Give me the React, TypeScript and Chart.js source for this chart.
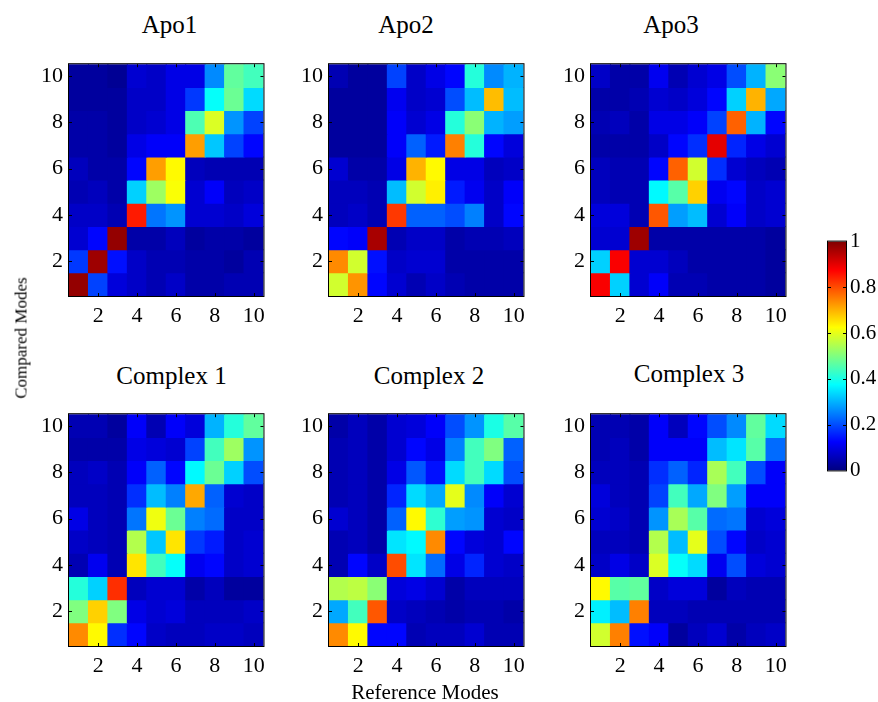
import React, { useEffect, useRef } from 'react';
import { Chart, registerables } from 'chart.js';

Chart.register(...registerables);

// ---------- data ----------
const modeLabels = ['1', '2', '3', '4', '5', '6', '7', '8', '9', '10'];
const shownModes = [2, 4, 6, 8, 10];
const panelTitles = ['Apo1', 'Apo2', 'Apo3', 'Complex 1', 'Complex 2', 'Complex 3'];
const xAxisTitle = 'Reference Modes';
const yAxisTitle = 'Compared Modes';

// each matrix: rows listed from compared mode 10 (top) down to mode 1 (bottom),
// columns = reference modes 1..10
const apo1 = [
  [0.03, 0.03, 0.02, 0.08, 0.07, 0.10, 0.10, 0.26, 0.47, 0.44],
  [0.03, 0.03, 0.03, 0.07, 0.07, 0.10, 0.18, 0.38, 0.48, 0.34],
  [0.04, 0.04, 0.03, 0.07, 0.08, 0.10, 0.45, 0.59, 0.27, 0.19],
  [0.04, 0.04, 0.03, 0.10, 0.12, 0.12, 0.72, 0.32, 0.19, 0.13],
  [0.06, 0.04, 0.04, 0.13, 0.72, 0.63, 0.06, 0.05, 0.05, 0.05],
  [0.05, 0.06, 0.04, 0.33, 0.53, 0.62, 0.08, 0.12, 0.06, 0.07],
  [0.07, 0.07, 0.05, 0.85, 0.24, 0.27, 0.08, 0.08, 0.07, 0.09],
  [0.08, 0.13, 0.98, 0.04, 0.04, 0.06, 0.03, 0.04, 0.04, 0.03],
  [0.18, 0.97, 0.14, 0.07, 0.05, 0.05, 0.04, 0.04, 0.03, 0.05],
  [0.98, 0.19, 0.09, 0.07, 0.05, 0.07, 0.04, 0.04, 0.05, 0.05],
];
const apo2 = [
  [0.05, 0.03, 0.03, 0.19, 0.07, 0.10, 0.13, 0.41, 0.26, 0.30],
  [0.03, 0.03, 0.03, 0.11, 0.07, 0.08, 0.20, 0.31, 0.69, 0.31],
  [0.03, 0.03, 0.03, 0.12, 0.08, 0.10, 0.41, 0.51, 0.30, 0.28],
  [0.03, 0.03, 0.03, 0.12, 0.22, 0.15, 0.75, 0.41, 0.13, 0.09],
  [0.08, 0.04, 0.04, 0.10, 0.70, 0.63, 0.10, 0.10, 0.06, 0.07],
  [0.06, 0.06, 0.05, 0.31, 0.58, 0.64, 0.15, 0.11, 0.07, 0.12],
  [0.06, 0.07, 0.05, 0.82, 0.22, 0.22, 0.20, 0.25, 0.07, 0.13],
  [0.13, 0.12, 0.96, 0.05, 0.07, 0.07, 0.04, 0.05, 0.05, 0.06],
  [0.74, 0.58, 0.14, 0.07, 0.08, 0.08, 0.04, 0.04, 0.04, 0.04],
  [0.58, 0.73, 0.13, 0.08, 0.05, 0.07, 0.05, 0.04, 0.04, 0.04],
];
const apo3 = [
  [0.07, 0.04, 0.04, 0.11, 0.05, 0.08, 0.10, 0.20, 0.30, 0.51],
  [0.04, 0.04, 0.05, 0.08, 0.07, 0.09, 0.13, 0.33, 0.70, 0.29],
  [0.05, 0.06, 0.04, 0.10, 0.10, 0.12, 0.19, 0.78, 0.30, 0.13],
  [0.04, 0.04, 0.04, 0.07, 0.13, 0.17, 0.90, 0.16, 0.10, 0.08],
  [0.06, 0.05, 0.05, 0.13, 0.78, 0.58, 0.17, 0.08, 0.06, 0.05],
  [0.06, 0.05, 0.05, 0.37, 0.46, 0.67, 0.11, 0.13, 0.07, 0.08],
  [0.09, 0.09, 0.05, 0.79, 0.28, 0.31, 0.08, 0.12, 0.07, 0.08],
  [0.08, 0.08, 0.97, 0.04, 0.04, 0.04, 0.04, 0.04, 0.04, 0.03],
  [0.33, 0.88, 0.08, 0.08, 0.06, 0.04, 0.04, 0.04, 0.04, 0.03],
  [0.88, 0.33, 0.08, 0.12, 0.05, 0.05, 0.04, 0.04, 0.04, 0.03],
];
const complex1 = [
  [0.05, 0.05, 0.03, 0.12, 0.05, 0.12, 0.09, 0.30, 0.41, 0.47],
  [0.04, 0.04, 0.04, 0.10, 0.09, 0.08, 0.19, 0.44, 0.53, 0.27],
  [0.06, 0.07, 0.05, 0.12, 0.22, 0.13, 0.37, 0.48, 0.33, 0.20],
  [0.06, 0.06, 0.05, 0.17, 0.31, 0.25, 0.71, 0.22, 0.08, 0.07],
  [0.10, 0.06, 0.05, 0.24, 0.61, 0.48, 0.25, 0.23, 0.07, 0.07],
  [0.07, 0.06, 0.05, 0.55, 0.32, 0.65, 0.18, 0.15, 0.07, 0.08],
  [0.05, 0.11, 0.05, 0.65, 0.44, 0.38, 0.11, 0.13, 0.07, 0.08],
  [0.41, 0.33, 0.83, 0.06, 0.08, 0.08, 0.04, 0.06, 0.03, 0.03],
  [0.50, 0.67, 0.50, 0.10, 0.08, 0.09, 0.06, 0.06, 0.06, 0.07],
  [0.74, 0.63, 0.17, 0.13, 0.07, 0.06, 0.06, 0.07, 0.07, 0.06],
];
const complex2 = [
  [0.04, 0.06, 0.04, 0.08, 0.09, 0.12, 0.20, 0.27, 0.40, 0.46],
  [0.05, 0.06, 0.04, 0.08, 0.13, 0.10, 0.25, 0.44, 0.50, 0.22],
  [0.05, 0.06, 0.04, 0.10, 0.21, 0.14, 0.34, 0.44, 0.34, 0.20],
  [0.05, 0.06, 0.04, 0.16, 0.34, 0.29, 0.60, 0.26, 0.12, 0.08],
  [0.08, 0.06, 0.04, 0.22, 0.63, 0.42, 0.28, 0.27, 0.08, 0.07],
  [0.05, 0.06, 0.04, 0.35, 0.37, 0.74, 0.13, 0.09, 0.08, 0.13],
  [0.05, 0.13, 0.07, 0.80, 0.35, 0.23, 0.10, 0.16, 0.08, 0.07],
  [0.55, 0.56, 0.51, 0.09, 0.10, 0.08, 0.04, 0.06, 0.06, 0.06],
  [0.29, 0.44, 0.79, 0.07, 0.06, 0.05, 0.04, 0.05, 0.05, 0.04],
  [0.74, 0.63, 0.13, 0.13, 0.05, 0.06, 0.06, 0.08, 0.05, 0.05],
];
const complex3 = [
  [0.05, 0.05, 0.04, 0.12, 0.06, 0.13, 0.20, 0.26, 0.47, 0.34],
  [0.05, 0.06, 0.04, 0.12, 0.12, 0.12, 0.31, 0.35, 0.46, 0.23],
  [0.06, 0.06, 0.05, 0.17, 0.22, 0.16, 0.54, 0.44, 0.20, 0.12],
  [0.09, 0.06, 0.05, 0.19, 0.44, 0.29, 0.50, 0.28, 0.12, 0.12],
  [0.08, 0.07, 0.05, 0.27, 0.54, 0.46, 0.23, 0.24, 0.08, 0.09],
  [0.06, 0.06, 0.05, 0.55, 0.31, 0.60, 0.20, 0.13, 0.07, 0.08],
  [0.07, 0.10, 0.07, 0.59, 0.38, 0.34, 0.11, 0.20, 0.09, 0.08],
  [0.63, 0.46, 0.47, 0.07, 0.09, 0.09, 0.03, 0.06, 0.05, 0.05],
  [0.36, 0.31, 0.75, 0.06, 0.06, 0.05, 0.05, 0.05, 0.05, 0.05],
  [0.58, 0.75, 0.14, 0.12, 0.03, 0.06, 0.08, 0.04, 0.06, 0.07],
];
const panelData = [apo1, apo2, apo3, complex1, complex2, complex3];

const colorbarTicks = [0, 0.2, 0.4, 0.6, 0.8, 1];
const colorbarLabels = ['0', '0.2', '0.4', '0.6', '0.8', '1'];

// ---------- styling / layout ----------
const FONT = "'Liberation Serif', 'Times New Roman', serif";
const PANEL_X = [69, 329, 591];
const PANEL_Y = [50, 400];
const PLOT_W = 198;
const PLOT_H = 246;
const PAD = 5;
const Y_AXIS_W = 40;
const X_AXIS_H = 30;
const TITLE_POS = [
  { x: 169.5, y: 32 },
  { x: 406, y: 32 },
  { x: 671, y: 32 },
  { x: 171.5, y: 383 },
  { x: 429, y: 383 },
  { x: 689, y: 381 },
];

function jet(v: number): string {
  const c = (x: number) => Math.round(255 * Math.max(0, Math.min(1, x)));
  return `rgb(${c(1.5 - Math.abs(4 * v - 3))},${c(1.5 - Math.abs(4 * v - 2))},${c(1.5 - Math.abs(4 * v - 1))})`;
}

const framePlugin = {
  id: 'matlabFrame',
  afterDatasetsDraw(chart: any) {
    const { ctx, chartArea: a, scales } = chart;
    const isBar = chart.options.plugins.matlabFrame?.colorbar;
    ctx.save();
    ctx.strokeStyle = '#000';
    ctx.lineWidth = 1;
    const len = 3;
    ctx.beginPath();
    const ys = scales.y;
    ys.ticks.forEach((t: any) => {
      const py = Math.round(ys.getPixelForValue(t.value)) + 0.5;
      if (py <= a.top + 1 || py >= a.bottom - 1) return;
      ctx.moveTo(a.left, py);
      ctx.lineTo(a.left + len, py);
      ctx.moveTo(a.right, py);
      ctx.lineTo(a.right - len, py);
    });
    if (!isBar) {
      const xs = scales.x;
      xs.ticks.forEach((t: any, i: number) => {
        if (!shownModes.includes(i + 1)) return;
        const px = Math.round(xs.getPixelForTick(i)) + 0.5;
        ctx.moveTo(px, a.bottom);
        ctx.lineTo(px, a.bottom - len);
        ctx.moveTo(px, a.top);
        ctx.lineTo(px, a.top + len);
      });
    }
    ctx.stroke();
    ctx.strokeRect(a.left - 0.5, a.top - 0.5, a.right - a.left + 1, a.bottom - a.top + 1);
    ctx.restore();
  },
};

function Heatmap({ values, left, top }: { values: number[][]; left: number; top: number }) {
  const ref = useRef<HTMLCanvasElement>(null);
  const width = PAD + Y_AXIS_W + PLOT_W + PAD;
  const height = PAD + PLOT_H + X_AXIS_H + PAD;
  useEffect(() => {
    if (!ref.current) return;
    const datasets = values.map((row, i) => {
      const mode = values.length - i;
      return {
        data: row.map(() => [mode - 0.5, mode + 0.5]),
        backgroundColor: row.map((v) => jet(v)),
        borderWidth: 0,
        grouped: false,
        barPercentage: 1,
        categoryPercentage: 1,
        inflateAmount: 0.5,
      };
    });
    const chart = new Chart(ref.current, {
      type: 'bar',
      data: { labels: modeLabels, datasets: datasets as any },
      plugins: [framePlugin as any],
      options: {
        responsive: false,
        animation: false,
        layout: { padding: { left: PAD, right: PAD, top: PAD, bottom: PAD } },
        plugins: { legend: { display: false }, tooltip: { enabled: false }, title: { display: false } } as any,
        scales: {
          x: {
            type: 'category',
            offset: true,
            grid: { display: false, drawTicks: false },
            border: { display: false },
            ticks: {
              autoSkip: false,
              maxRotation: 0,
              padding: 7,
              color: '#000',
              font: { family: FONT, size: 22 },
              callback: (_v: any, i: number) => (shownModes.includes(i + 1) ? modeLabels[i] : ''),
            },
            afterFit: (s: any) => {
              s.height = X_AXIS_H;
            },
          },
          y: {
            type: 'linear',
            min: 0.5,
            max: 10.5,
            grid: { display: false, drawTicks: false },
            border: { display: false },
            afterBuildTicks: (s: any) => {
              s.ticks = shownModes.map((v) => ({ value: v }));
            },
            ticks: {
              padding: 6,
              color: '#000',
              font: { family: FONT, size: 22 },
              callback: (v: any) => modeLabels[Number(v) - 1],
            },
            afterFit: (s: any) => {
              s.width = Y_AXIS_W;
            },
          },
        },
      },
    });
    return () => chart.destroy();
  }, [values]);
  return (
    <canvas
      ref={ref}
      width={width}
      height={height}
      style={{ position: 'absolute', left: left - PAD - Y_AXIS_W, top: top - PAD, width, height }}
    />
  );
}

function Colorbar() {
  const ref = useRef<HTMLCanvasElement>(null);
  const left = 800;
  const top = 225;
  const width = 78;
  const height = 262;
  useEffect(() => {
    if (!ref.current) return;
    const chart = new Chart(ref.current, {
      type: 'bar',
      data: {
        labels: [''],
        datasets: [
          {
            data: [[0, 1]] as any,
            borderWidth: 0,
            barPercentage: 1,
            categoryPercentage: 1,
            backgroundColor: (c: any) => {
              const area = c.chart.chartArea;
              if (!area) return jet(0.5);
              const g = c.chart.ctx.createLinearGradient(0, area.bottom, 0, area.top);
              [0, 0.125, 0.375, 0.625, 0.875, 1].forEach((s) => g.addColorStop(s, jet(s)));
              return g;
            },
          },
        ],
      },
      plugins: [framePlugin as any],
      options: {
        responsive: false,
        animation: false,
        layout: { padding: { left: 28, right: 0, top: 13, bottom: 15 } },
        plugins: { legend: { display: false }, tooltip: { enabled: false }, matlabFrame: { colorbar: true } } as any,
        scales: {
          x: { display: false, offset: true },
          y: {
            position: 'right',
            min: 0,
            max: 1,
            grid: { display: false, drawTicks: false },
            border: { display: false },
            afterBuildTicks: (s: any) => {
              s.ticks = colorbarTicks.map((v) => ({ value: v }));
            },
            ticks: {
              padding: 4,
              color: '#000',
              font: { family: FONT, size: 21 },
              callback: (_v: any, i: number) => colorbarLabels[i],
            },
            afterFit: (s: any) => {
              s.width = 32;
            },
          },
        },
      },
    });
    return () => chart.destroy();
  }, []);
  return (
    <canvas ref={ref} width={width} height={height} style={{ position: 'absolute', left, top, width, height }} />
  );
}

function Label({ text, x, baseline, size, rotate }: { text: string; x: number; baseline: number; size: number; rotate?: boolean }) {
  const style: React.CSSProperties = {
    position: 'absolute',
    left: x,
    top: baseline,
    fontFamily: FONT,
    fontSize: size,
    lineHeight: 1,
    whiteSpace: 'nowrap',
    color: '#000',
    transform: rotate ? 'translate(-50%, -50%) rotate(-90deg)' : 'translate(-50%, -80%)',
  };
  return <div style={style}>{text}</div>;
}

export default function App() {
  return (
    <div style={{ position: 'fixed', left: 0, top: 0, width: 878, height: 702, background: '#fff', overflow: 'hidden' }}>
      {panelData.map((vals, i) => (
        <Heatmap key={i} values={vals} left={PANEL_X[i % 3]} top={PANEL_Y[Math.floor(i / 3)]} />
      ))}
      {panelTitles.map((t, i) => (
        <Label key={t} text={t} x={TITLE_POS[i].x} baseline={TITLE_POS[i].y} size={25} />
      ))}
      <Label text={xAxisTitle} x={425} baseline={699} size={21} />
      <Label text={yAxisTitle} x={21} baseline={338} size={17} rotate />
      <Colorbar />
    </div>
  );
}
